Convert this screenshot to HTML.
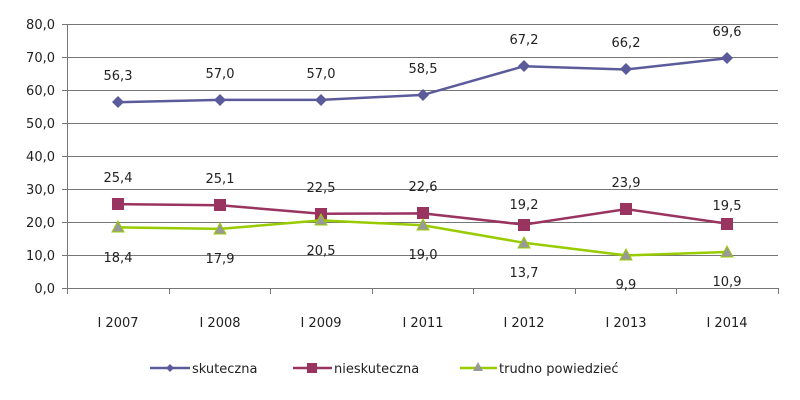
<!DOCTYPE html><html><head><meta charset="utf-8"><style>body{margin:0;background:#fff}svg{display:block}text{font-family:"DejaVu Sans","Liberation Sans",sans-serif;font-size:13px;fill:#222}</style></head><body>
<svg width="800" height="400" viewBox="0 0 800 400">
<g stroke="#777" stroke-width="1">
<line x1="62" y1="24.5" x2="778" y2="24.5"/><line x1="62" y1="57.5" x2="778" y2="57.5"/><line x1="62" y1="90.5" x2="778" y2="90.5"/><line x1="62" y1="123.5" x2="778" y2="123.5"/><line x1="62" y1="156.5" x2="778" y2="156.5"/><line x1="62" y1="189.5" x2="778" y2="189.5"/><line x1="62" y1="222.5" x2="778" y2="222.5"/><line x1="62" y1="255.5" x2="778" y2="255.5"/><line x1="62" y1="288.5" x2="778" y2="288.5"/>
<line x1="67.5" y1="24" x2="67.5" y2="294"/>
<line x1="169.5" y1="288" x2="169.5" y2="294"/><line x1="270.5" y1="288" x2="270.5" y2="294"/><line x1="372.5" y1="288" x2="372.5" y2="294"/><line x1="473.5" y1="288" x2="473.5" y2="294"/><line x1="575.5" y1="288" x2="575.5" y2="294"/><line x1="676.5" y1="288" x2="676.5" y2="294"/><line x1="778.5" y1="288" x2="778.5" y2="294"/>
</g>
<g text-anchor="end"><text x="55" y="29">80,0</text><text x="55" y="62">70,0</text><text x="55" y="95">60,0</text><text x="55" y="128">50,0</text><text x="55" y="161">40,0</text><text x="55" y="194">30,0</text><text x="55" y="227">20,0</text><text x="55" y="260">10,0</text><text x="55" y="293">0,0</text></g>
<g text-anchor="middle"><text x="118" y="327">I 2007</text><text x="220" y="327">I 2008</text><text x="321" y="327">I 2009</text><text x="423" y="327">I 2011</text><text x="524" y="327">I 2012</text><text x="626" y="327">I 2013</text><text x="727" y="327">I 2014</text></g>
<polyline fill="none" stroke="#5b5b9b" stroke-width="2.5" points="118,102.2 220,99.9 321,99.9 423,94.9 524,66.2 626,69.5 727,58.3"/>
<g fill="#5b5b9b"><path d="M118,96l6,6-6,6-6-6z"/><path d="M220,94l6,6-6,6-6-6z"/><path d="M321,94l6,6-6,6-6-6z"/><path d="M423,89l6,6-6,6-6-6z"/><path d="M524,60l6,6-6,6-6-6z"/><path d="M626,63l6,6-6,6-6-6z"/><path d="M727,52l6,6-6,6-6-6z"/></g>
<g text-anchor="middle"><text x="118" y="80">56,3</text><text x="220" y="78">57,0</text><text x="321" y="78">57,0</text><text x="423" y="73">58,5</text><text x="524" y="44">67,2</text><text x="626" y="47">66,2</text><text x="727" y="36">69,6</text></g>
<polyline fill="none" stroke="#99335f" stroke-width="2.5" points="118,204.2 220,205.2 321,213.8 423,213.4 524,224.6 626,209.1 727,223.6"/>
<g fill="#99335f"><rect x="112" y="198" width="12" height="12"/><rect x="214" y="199" width="12" height="12"/><rect x="315" y="208" width="12" height="12"/><rect x="417" y="207" width="12" height="12"/><rect x="518" y="219" width="12" height="12"/><rect x="620" y="203" width="12" height="12"/><rect x="721" y="218" width="12" height="12"/></g>
<g text-anchor="middle"><text x="118" y="182">25,4</text><text x="220" y="183">25,1</text><text x="321" y="192">22,5</text><text x="423" y="191">22,6</text><text x="524" y="209">19,2</text><text x="626" y="187">23,9</text><text x="727" y="210">19,5</text></g>
<polyline fill="none" stroke="#99cc00" stroke-width="2.5" points="118,227.3 220,228.9 321,220.4 423,225.3 524,242.8 626,255.4 727,252"/>
<g fill="#999" stroke="#99cc00" stroke-width="1"><path d="M118,221l6,11h-12z"/><path d="M220,223l6,11h-12z"/><path d="M321,214l6,11h-12z"/><path d="M423,219l6,11h-12z"/><path d="M524,237l6,11h-12z"/><path d="M626,249l6,11h-12z"/><path d="M727,246l6,11h-12z"/></g>
<g text-anchor="middle"><text x="118" y="262">18,4</text><text x="220" y="263">17,9</text><text x="321" y="255">20,5</text><text x="423" y="259">19,0</text><text x="524" y="277">13,7</text><text x="626" y="289">9,9</text><text x="727" y="286">10,9</text></g>
<line x1="150" y1="368" x2="190" y2="368" stroke="#5b5b9b" stroke-width="2.5"/><path d="M170,364l4,4-4,4-4-4z" fill="#5b5b9b"/><text x="192" y="373">skuteczna</text>
<line x1="293" y1="368" x2="332" y2="368" stroke="#99335f" stroke-width="2.5"/><rect x="307" y="363" width="10" height="10" fill="#99335f"/><text x="334" y="373">nieskuteczna</text>
<line x1="460" y1="368" x2="497" y2="368" stroke="#99cc00" stroke-width="2.5"/><path d="M478,362l5,9h-10z" fill="#999"/><text x="499" y="373">trudno powiedzieć</text>
</svg></body></html>
